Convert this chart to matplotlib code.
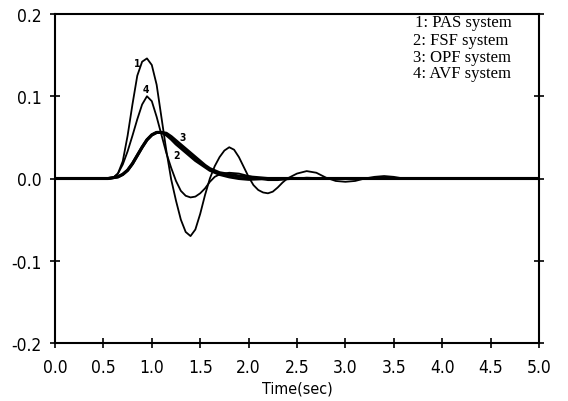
import matplotlib
matplotlib.use("Agg")
import matplotlib.pyplot as plt
from matplotlib.ticker import FormatStrFormatter

plt.rcParams["axes.unicode_minus"] = False

# 1: PAS system
t_pas = [0.0, 0.55, 0.60, 0.65, 0.70, 0.75, 0.80, 0.85, 0.90, 0.95, 1.00, 1.05,
         1.10, 1.15, 1.20, 1.25, 1.30, 1.35, 1.40, 1.45, 1.50, 1.55, 1.60, 1.65,
         1.70, 1.75, 1.80, 1.85, 1.90, 1.95, 2.00, 2.05, 2.10, 2.15, 2.20, 2.25,
         2.30, 2.35, 2.40, 2.50, 2.60, 2.70, 2.80, 2.90, 3.00, 3.10, 3.20, 3.30,
         3.40, 3.50, 3.60, 5.0]
v_pas = [0.0, 0.0, 0.0005, 0.006, 0.021, 0.052, 0.090, 0.125, 0.142, 0.146, 0.138, 0.114,
         0.074, 0.034, -0.001, -0.027, -0.050, -0.065, -0.070, -0.062, -0.043, -0.020, 0.0, 0.015,
         0.026, 0.034, 0.038, 0.035, 0.026, 0.014, 0.002, -0.008, -0.014, -0.017, -0.018, -0.016,
         -0.011, -0.005, 0.0, 0.006, 0.009, 0.007, 0.001, -0.003, -0.004, -0.003, 0.0, 0.002,
         0.003, 0.002, 0.0, 0.0]

# 2: FSF system
t_fsf = [0.0, 0.55, 0.60, 0.65, 0.70, 0.75, 0.80, 0.85, 0.90, 0.95, 1.00, 1.05,
         1.10, 1.15, 1.20, 1.25, 1.30, 1.35, 1.40, 1.45, 1.50, 1.55, 1.60, 1.70,
         1.80, 1.90, 2.00, 2.20, 5.0]
v_fsf = [0.0, 0.0, 0.001, 0.002, 0.005, 0.010, 0.018, 0.028, 0.038, 0.047, 0.053, 0.056,
         0.056, 0.053, 0.048, 0.042, 0.037, 0.032, 0.027, 0.022, 0.018, 0.014, 0.010, 0.005,
         0.002, 0.0, -0.001, 0.0, 0.0]

# 3: OPF system
t_opf = [0.0, 0.55, 0.60, 0.65, 0.70, 0.75, 0.80, 0.85, 0.90, 0.95, 1.00, 1.05,
         1.10, 1.15, 1.20, 1.25, 1.30, 1.35, 1.40, 1.45, 1.50, 1.55, 1.60, 1.70,
         1.80, 1.90, 2.00, 2.20, 5.0]
v_opf = [0.0, 0.0, 0.001, 0.002, 0.005, 0.010, 0.018, 0.028, 0.038, 0.047, 0.053, 0.056,
         0.056, 0.055, 0.051, 0.046, 0.041, 0.036, 0.031, 0.026, 0.021, 0.016, 0.012, 0.007,
         0.005, 0.003, 0.002, 0.0, 0.0]

# 4: AVF system
t_avf = [0.0, 0.55, 0.60, 0.65, 0.70, 0.75, 0.80, 0.85, 0.90, 0.95, 1.00, 1.05,
         1.10, 1.15, 1.20, 1.25, 1.30, 1.35, 1.40, 1.45, 1.50, 1.55, 1.60, 1.65,
         1.70, 1.80, 1.90, 2.00, 2.10, 2.20, 2.30, 2.40, 2.60, 2.80, 5.0]
v_avf = [0.0, 0.0, 0.001, 0.006, 0.017, 0.033, 0.052, 0.072, 0.090, 0.100, 0.094, 0.075,
         0.053, 0.031, 0.013, -0.003, -0.015, -0.021, -0.023, -0.022, -0.018, -0.012, -0.004, 0.002,
         0.005, 0.007, 0.006, 0.003, 0.0, -0.002, -0.002, -0.001, 0.001, 0.0, 0.0]

legend_lines = ["1: PAS system", "2: FSF system", "3: OPF system", "4: AVF system"]
x_ticks = [0.0, 0.5, 1.0, 1.5, 2.0, 2.5, 3.0, 3.5, 4.0, 4.5, 5.0]
y_ticks = [-0.2, -0.1, 0.0, 0.1, 0.2]

sans = ["DejaVu Sans"]
serif = ["Liberation Serif", "DejaVu Serif"]

fig = plt.figure(figsize=(5.68, 4.02), dpi=100)
ax = fig.add_axes([55 / 568, 1 - 344 / 402, 484 / 568, 329 / 402])

ax.plot(t_fsf, v_fsf, color="black", lw=2.2, solid_joinstyle="round")
ax.plot(t_opf, v_opf, color="black", lw=2.2, solid_joinstyle="round")
ax.plot(t_pas, v_pas, color="black", lw=1.3, solid_joinstyle="round")
ax.plot(t_avf, v_avf, color="black", lw=1.3, solid_joinstyle="round")

# curve numbers
for txt, tx, ty in [("1", 0.85, 0.140), ("4", 0.94, 0.109),
                    ("3", 1.32, 0.050), ("2", 1.26, 0.028)]:
    ax.text(tx, ty, txt, fontsize=7.5, fontweight="bold", family=sans,
            fontstretch="condensed", ha="center", va="center")

ax.set_xlim(0, 5)
ax.set_ylim(-0.2, 0.2)
ax.set_xticks(x_ticks)
ax.set_yticks(y_ticks)
ax.xaxis.set_major_formatter(FormatStrFormatter("%.1f"))
ax.yaxis.set_major_formatter(FormatStrFormatter("%.1f"))
ax.tick_params(axis="both", direction="inout", length=7, width=1.2,
               labelsize=12.5, colors="black")
ax.tick_params(axis="y", right=True, pad=6)
ax.tick_params(axis="x", pad=7.5)
for lab in ax.get_xticklabels() + ax.get_yticklabels():
    lab.set_family(sans)
    lab.set_fontstretch("condensed")

for sp in ax.spines.values():
    sp.set_linewidth(1.5)

ax.set_xlabel("Time(sec)", family=sans, fontstretch="condensed",
              fontsize=11.5, labelpad=3)

legend_y = [0.976, 0.921, 0.869, 0.821]
legend_x = [0.744, 0.739, 0.740, 0.740]
for txt, lx, ly in zip(legend_lines, legend_x, legend_y):
    ax.text(lx, ly, txt, transform=ax.transAxes, family=serif,
            fontsize=12, ha="left", va="center")

fig.savefig("out.png", dpi=100)
